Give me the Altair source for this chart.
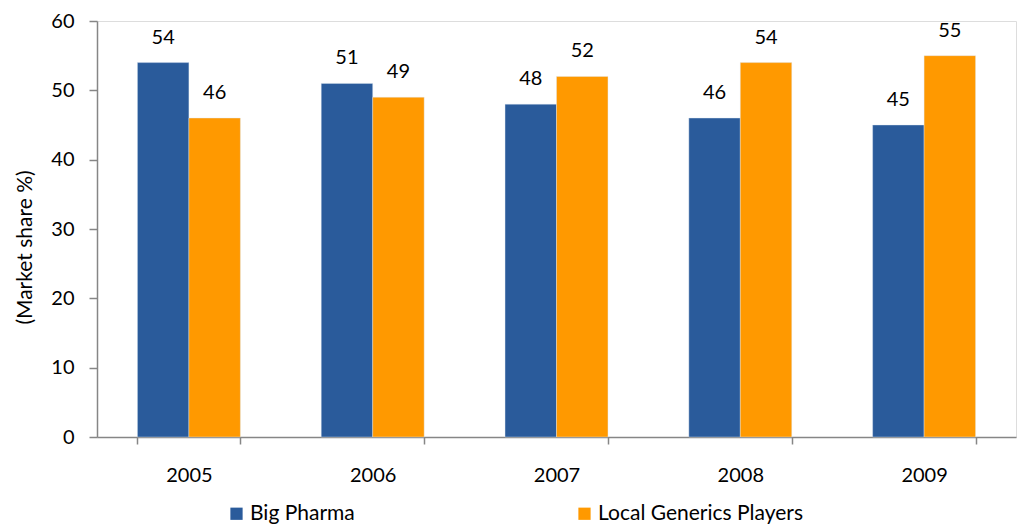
import altair as alt
import pandas as pd

years = ["2005", "2006", "2007", "2008", "2009"]
big_pharma = [54, 51, 48, 46, 45]
local_generics = [46, 49, 52, 54, 55]
series_names = ["Big Pharma", "Local Generics Players"]
series_colors = ["#2A5B9B", "#FF9900"]
y_ticks = [0, 10, 20, 30, 40, 50, 60]

rows = []
for i, y in enumerate(years):
    rows.append({"year": y, "series": series_names[0], "value": big_pharma[i]})
    rows.append({"year": y, "series": series_names[1], "value": local_generics[i]})
df = pd.DataFrame(rows)

FONT = "Lato"

x = alt.X(
    "year:N",
    sort=years,
    scale=alt.Scale(paddingInner=0.44, paddingOuter=0.22),
    axis=alt.Axis(
        title=None,
        labelAngle=0,
        labelFontSize=20,
        labelFont=FONT,
        labelColor="#000000",
        labelPadding=21,
        tickBand="extent",
        tickSize=7,
        tickColor="#868686",
        tickWidth=1.5,
        domainColor="#868686",
        domainWidth=1.5,
        grid=False,
    ),
)
xoff = alt.XOffset("series:N", sort=series_names)

base = alt.Chart(df).encode(x=x, xOffset=xoff)

bars = base.mark_bar(stroke="#dfe8f3", strokeWidth=0.4).encode(
    y=alt.Y(
        "value:Q",
        scale=alt.Scale(domain=[0, 60], nice=False),
        axis=alt.Axis(
            title="(Market share %)",
            values=y_ticks,
            titleFontSize=21,
            titleFont=FONT,
            titleFontWeight="normal",
            titleColor="#000000",
            titleX=-72,
            titleY=226,
            titleAngle=-90,
            titleAlign="center",
            titleBaseline="middle",
            labelFontSize=20,
            labelFont=FONT,
            labelColor="#000000",
            labelPadding=15,
            tickSize=8,
            tickColor="#868686",
            tickWidth=1.5,
            domainColor="#868686",
            domainWidth=1.5,
            grid=False,
        ),
    ),
    color=alt.Color(
        "series:N",
        sort=series_names,
        scale=alt.Scale(domain=series_names, range=series_colors),
        legend=alt.Legend(
            title=None,
            orient="none",
            direction="horizontal",
            legendX=129,
            legendY=482,
            symbolType="square",
            symbolSize=150,
            symbolStrokeWidth=0,
            labelFontSize=21,
            labelFont=FONT,
            labelColor="#000000",
            labelOffset=3,
            labelLimit=0,
            columnPadding=219,
            padding=0,
        ),
    ),
)

labels = base.mark_text(
    baseline="alphabetic", dy=-19, fontSize=20, font=FONT, color="#000000"
).encode(
    y=alt.Y("value:Q"),
    text=alt.Text("value:Q"),
)

chart = (
    alt.layer(bars, labels)
    .properties(
        width=919,
        height=416,
        padding={"left": 97, "top": 21, "right": 8, "bottom": 89},
        autosize=alt.AutoSizeParams(type="none"),
    )
    .configure_view(stroke=None)
    .configure(background="#ffffff")
)

chart.save("out.html", embed_options={"renderer": "svg", "actions": False})
